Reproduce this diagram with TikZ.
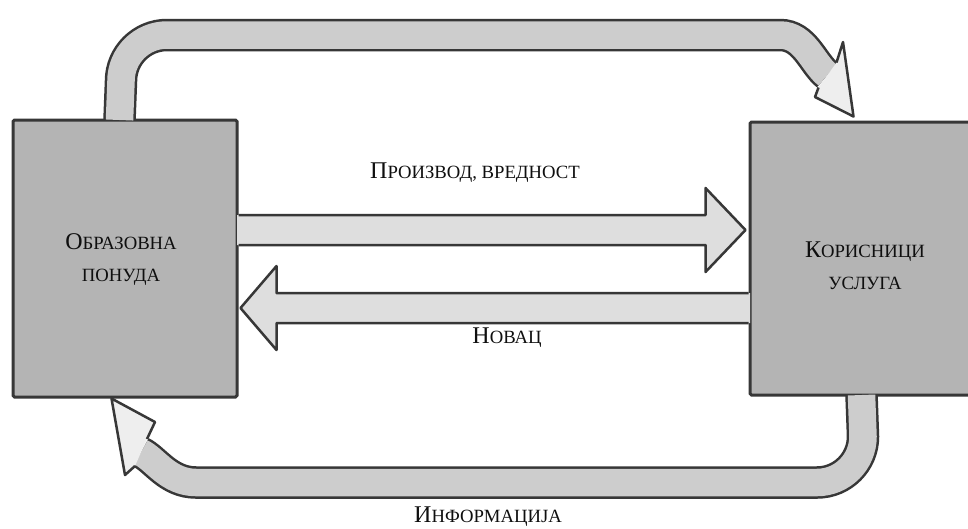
\documentclass[tikz,border=0pt]{standalone}
\usepackage{fontspec}
\setmainfont{Liberation Serif}
\usetikzlibrary{calc}
\definecolor{edge}{RGB}{55,55,55}
\definecolor{boxfill}{RGB}{180,180,180}
\definecolor{bandfill}{RGB}{205,205,205}
\definecolor{midfill}{RGB}{222,222,222}
\definecolor{headfill}{RGB}{238,238,238}
\definecolor{ink}{RGB}{15,15,15}
\newcommand{\capA}{\fontsize{24}{32}\selectfont}
\newcommand{\capB}{\fontsize{18.7}{32}\selectfont}
\newcommand{\smc}[2]{{\capA #1}{\capB #2}}
\begin{document}
\begin{tikzpicture}[x=1pt,y=-1pt,
  box/.style={draw=edge, fill=boxfill, line width=3pt, rounded corners=1.5pt, inner sep=0pt},
  lbl/.style={font=\capB, align=center, inner sep=0pt, text=ink},
  band/.style={draw=edge, line width=2.5pt, double=bandfill, double distance=27.5pt},
  outl/.style={draw=edge, line width=2.5pt, line join=round},
]
\clip (0,0) rectangle (968,528);
\fill[white] (0,0) rectangle (968,528);

% boxes
\node[box, minimum width=224pt, minimum height=277pt] (L) at (125,258.5) {};
\node[box, minimum width=230pt, minimum height=273pt] (R) at (865,258.5) {};

% top curved arrow (L -> R)
\coordinate (t0) at ($(L.north west)+(108,1.5)$);
\coordinate (tE) at (827.5,75);
\coordinate (tTip) at ($(R.north west)+(105,-4)$);
\draw[band] (t0) -- (121,81) .. controls (121,55.6) and (141.6,35) .. (167,35)
  -- (780,35) .. controls (805,35) and (813,64) .. (tE);
\fill[headfill] (837,62) -- (843,42) -- (tTip) -- (815,97) -- (818,88) -- cycle;
\draw[outl] (836.5,62.5) -- (843,42) -- (tTip) -- (815,97) -- (818.5,87.5);

% bottom curved arrow (R -> L)
\coordinate (b0) at ($(R.south west)+(113,-1.5)$);
\coordinate (bE) at (141,452.5);
\coordinate (bTip) at ($(L.south west)+(100,0)$);
\draw[band] (b0) -- (863,436.5) .. controls (863,461.9) and (842.4,482.5) .. (817,482.5)
  -- (196,482.5) .. controls (168,482.5) and (155,459) .. (bE);
\fill[headfill] (135,466) -- (125,475) -- (bTip) -- (155,422) -- (147,439) -- cycle;
\draw[outl] (135,466) -- (125,475) -- (bTip) -- (155,422) -- (147,439);

% upper middle arrow (L -> R)
\coordinate (u0) at ($(L.east)+(-1.5,-28.5)$);
\coordinate (uT) at ($(R.west)+(-3,-28.5)$);
\fill[midfill] ($(u0)+(0,-15)$) -- ($(uT)+(-40,-15)$) -- ($(uT)+(-40,-42)$) -- (uT)
  -- ($(uT)+(-40,42)$) -- ($(uT)+(-40,15)$) -- ($(u0)+(0,15)$) -- cycle;
\draw[outl] ($(u0)+(1.5,-15)$) -- ($(uT)+(-40,-15)$) -- ($(uT)+(-40,-42)$) -- (uT)
  -- ($(uT)+(-40,42)$) -- ($(uT)+(-40,15)$) -- ($(u0)+(1.5,15)$);

% lower middle arrow (R -> L)
\coordinate (l0) at ($(R.west)+(1.5,49.5)$);
\coordinate (lT) at ($(L.east)+(2,49.5)$);
\fill[midfill] ($(l0)+(0,-15)$) -- ($(lT)+(36,-15)$) -- ($(lT)+(36,-42)$) -- (lT)
  -- ($(lT)+(36,42)$) -- ($(lT)+(36,15)$) -- ($(l0)+(0,15)$) -- cycle;
\draw[outl] ($(l0)+(-1.5,-15)$) -- ($(lT)+(36,-15)$) -- ($(lT)+(36,-42)$) -- (lT)
  -- ($(lT)+(36,42)$) -- ($(lT)+(36,15)$) -- ($(l0)+(-1.5,15)$);

% labels
\node[lbl] (Lt) at (121,260) {\smc{О}{БРАЗОВНА}\\ПОНУДА};
\node[lbl] (Rt) at (865,265.5) {\smc{К}{ОРИСНИЦИ}\\УСЛУГА};
\node[lbl, anchor=base] (pv) at (475,178) {\smc{П}{РОИЗВОД, ВРЕДНОСТ}};
\node[lbl, anchor=base] (nv) at (507,343) {\smc{Н}{ОВАЦ}};
\node[lbl, anchor=base] (inf) at (488,522) {\smc{И}{НФОРМАЦИЈА}};
\end{tikzpicture}
\end{document}
